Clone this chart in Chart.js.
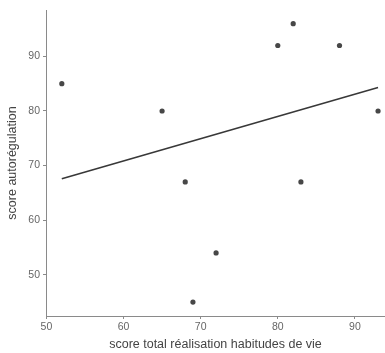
<!DOCTYPE html>
<html>
<head>
<meta charset="utf-8">
<script src="https://cdn.jsdelivr.net/npm/chart.js@4"></script>
<style>
  html, body { margin: 0; padding: 0; background: #ffffff; }
  #wrap { width: 385px; height: 353px; }
</style>
</head>
<body>
<div id="wrap"><canvas id="nuage"></canvas></div>
<script>
// données
const scoreHabitudes = [52, 65, 68, 69, 72, 80, 82, 83, 88, 93];
const scoreAutoregulation = [85, 80, 67, 45, 54, 92, 96, 67, 92, 80];
// droite de régression (extrémités)
const droiteX = [52, 93];
const droiteY = [67.6, 84.3];
const ticksX = [50, 60, 70, 80, 90];
const ticksY = [50, 60, 70, 80, 90];

const gris = "#8a8a8a";
const police = "'Liberation Sans', Arial, sans-serif";

const ctx = document.getElementById("nuage").getContext("2d");
new Chart(ctx, {
    type: "scatter",
    data: {
        datasets: [
            {
                data: scoreHabitudes.map((x, i) => ({ x: x, y: scoreAutoregulation[i] })),
                backgroundColor: "#474747",
                borderWidth: 0,
                pointRadius: 2.6
            },
            {
                type: "line",
                data: droiteX.map((x, i) => ({ x: x, y: droiteY[i] })),
                borderColor: "#383838",
                borderWidth: 1.6,
                pointRadius: 0,
                fill: false
            }
        ]
    },
    options: {
        responsive: true,
        maintainAspectRatio: false,
        animation: false,
        layout: { autoPadding: false, padding: { top: 10, right: 0, left: 0, bottom: 0 } },
        plugins: { legend: { display: false }, tooltip: { enabled: false } },
        scales: {
            x: {
                type: "linear",
                min: 49.95,
                max: 93.9,
                afterBuildTicks: (axis) => { axis.ticks = ticksX.map(v => ({ value: v })); },
                afterFit: (axis) => { axis.height = 37; },
                grid: { drawOnChartArea: false, drawTicks: true, tickLength: 3, color: gris },
                border: { display: true, color: gris, width: 1 },
                ticks: { color: "#666666", font: { family: police, size: 10.5 }, padding: 2, maxRotation: 0 },
                title: {
                    display: true,
                    text: "score total réalisation habitudes de vie",
                    color: "#444444",
                    font: { family: police, size: 12.5 },
                    padding: { top: 0, bottom: 1 }
                }
            },
            y: {
                type: "linear",
                min: 42.45,
                max: 98.5,
                afterBuildTicks: (axis) => { axis.ticks = ticksY.map(v => ({ value: v })); },
                afterFit: (axis) => { axis.width = 46; },
                grid: { drawOnChartArea: false, drawTicks: true, tickLength: 3, color: gris },
                border: { display: true, color: gris, width: 1 },
                ticks: { color: "#666666", font: { family: police, size: 10.5 }, padding: 3 },
                title: {
                    display: true,
                    text: "score autorégulation",
                    color: "#444444",
                    font: { family: police, size: 12.5 },
                    padding: { top: 5, bottom: 2 }
                }
            }
        }
    }
});
</script>
</body>
</html>
